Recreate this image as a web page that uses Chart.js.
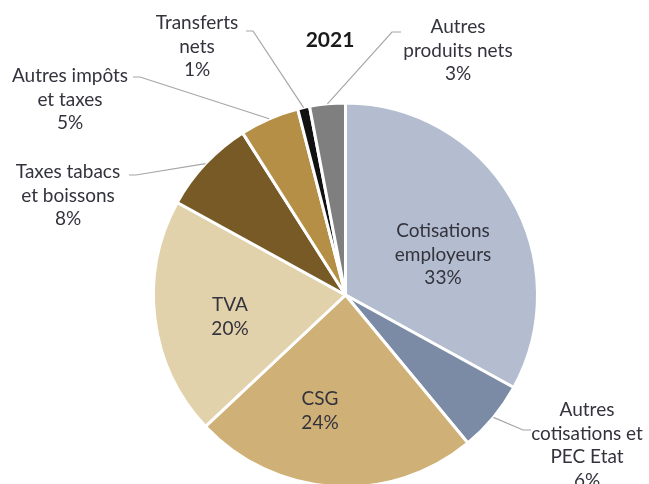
<!DOCTYPE html>
<html>
<head>
<meta charset="utf-8">
<script src="https://cdn.jsdelivr.net/npm/chart.js@4"></script>
<style>
  html, body { margin: 0; padding: 0; background: #fff; overflow: hidden; }
</style>
</head>
<body>
<canvas id="pie" width="649" height="500"></canvas>
<script>
// Structure des recettes 2021
const categories = [
  ['Cotisations', 'employeurs'],
  ['Autres', 'cotisations et', 'PEC Etat'],
  ['CSG'],
  ['TVA'],
  ['Taxes tabacs', 'et boissons'],
  ['Autres impôts', 'et taxes'],
  ['Transferts', 'nets'],
  ['Autres', 'produits nets']
];
const shares = [33, 6, 24, 20, 8, 5, 1, 3];
const colors = ['#b3bdcf', '#7b8aa5', '#cfb077', '#e2d2ac', '#785a26', '#b68f46', '#111111', '#7f7f7f'];

// where each label's text block is centred, and whether it gets a leader line
const labelPos = [
  { x: 443, y: 231, inside: true },
  { x: 587, y: 410, line: [[523, 430], [531, 430]] },
  { x: 320, y: 399, inside: true },
  { x: 230, y: 305, inside: true },
  { x: 68, y: 172, line: [[136, 175], [129, 175]] },
  { x: 70, y: 76, line: [[140, 77], [133, 77]] },
  { x: 197, y: 23, line: [[253, 31], [246, 31]] },
  { x: 458, y: 27, line: [[392, 32], [401, 32]] }
];

const labelsPlugin = {
  id: 'pieLabels',
  afterDatasetsDraw(chart) {
    const ctx = chart.ctx;
    const arcs = chart.getDatasetMeta(0).data;
    ctx.save();
    // title
    ctx.fillStyle = '#1a1a1a';
    ctx.font = 'bold 21px Lato, "Open Sans", sans-serif';
    ctx.textAlign = 'center';
    ctx.textBaseline = 'middle';
    ctx.fillText('2021', 330, 40);

    arcs.forEach((arc, i) => {
      const p = labelPos[i];
      if (p.line) {
        const mid = (arc.startAngle + arc.endAngle) / 2;
        const ex = arc.x + Math.cos(mid) * arc.outerRadius;
        const ey = arc.y + Math.sin(mid) * arc.outerRadius;
        ctx.strokeStyle = '#a6a6a6';
        ctx.lineWidth = 1.2;
        ctx.beginPath();
        ctx.moveTo(ex, ey);
        ctx.lineTo(p.line[0][0], p.line[0][1]);
        ctx.lineTo(p.line[1][0], p.line[1][1]);
        ctx.stroke();
      }
      const lines = categories[i].concat([shares[i] + '%']);
      ctx.fillStyle = '#33333d';
      ctx.font = '19px Lato, "Open Sans", sans-serif';
      lines.forEach((t, k) => ctx.fillText(t, p.x, p.y + k * 23.5));
    });
    ctx.restore();
  }
};

new Chart(document.getElementById('pie'), {
  type: 'pie',
  data: {
    labels: categories.map(c => c.join(' ')),
    datasets: [{
      data: shares,
      backgroundColor: colors,
      borderColor: '#ffffff',
      borderWidth: 3
    }]
  },
  options: {
    responsive: false,
    animation: false,
    layout: { padding: { left: 152, right: 110, top: 101, bottom: 11 } },
    plugins: {
      legend: { display: false },
      tooltip: { enabled: false }
    }
  },
  plugins: [labelsPlugin]
});
</script>
</body>
</html>
